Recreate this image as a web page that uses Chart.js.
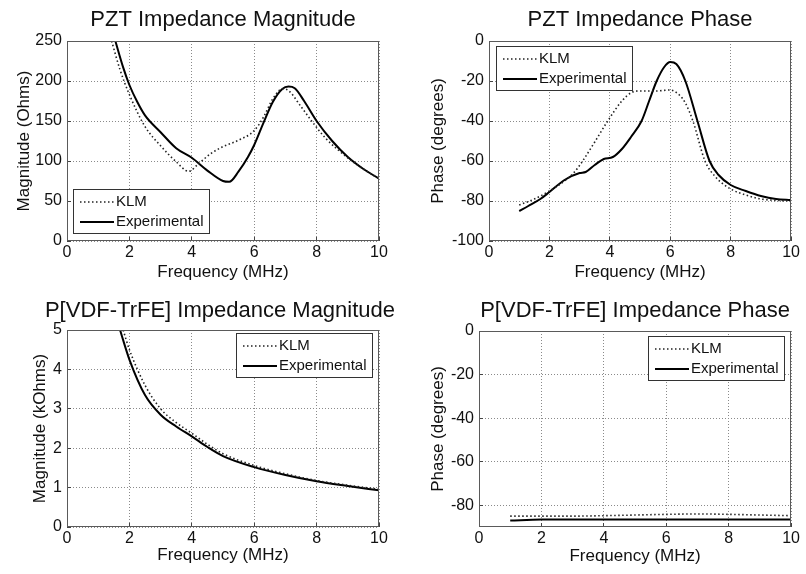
<!DOCTYPE html>
<html>
<head>
<meta charset="utf-8">
<script src="https://cdn.jsdelivr.net/npm/chart.js@4"></script>
<style>
  html, body { margin: 0; padding: 0; background: #fff; }
  #wrap { position: relative; width: 806px; height: 574px; overflow: hidden; }
  canvas { position: absolute; }
</style>
</head>
<body>
<div id="wrap">
  <canvas id="c1" width="403" height="290" style="left:0;top:0"></canvas>
  <canvas id="c2" width="403" height="290" style="left:403px;top:0"></canvas>
  <canvas id="c3" width="440" height="284" style="left:0;top:290px"></canvas>
  <canvas id="c4" width="403" height="284" style="left:403px;top:290px"></canvas>
</div>
<script>
// PZT impedance magnitude (Ohms)
const pztMagKlmFreq = [1.43, 1.7, 2.0, 2.5, 3.0, 3.5, 3.9, 4.2, 4.6, 5.0, 5.5, 6.0, 6.3, 6.6, 6.9, 7.1, 7.5, 7.84, 8.3, 9.0, 9.5, 10.0];
const pztMagKlm     = [250, 214, 183, 143, 119, 99, 87, 96, 109, 118, 126, 138, 155, 178, 190, 188, 168, 150, 128, 104, 90, 78];
const pztMagExpFreq = [1.55, 1.8, 2.0, 2.25, 2.5, 3.0, 3.5, 4.0, 4.5, 5.0, 5.2, 5.5, 5.8, 6.0, 6.3, 6.6, 6.9, 7.1, 7.3, 7.6, 8.0, 8.5, 9.0, 9.5, 10.0];
const pztMagExp     = [250, 217, 195, 174, 157, 136, 116, 104, 88, 75, 74, 87, 105, 120, 148, 174, 190, 193, 191, 175, 150, 125, 105, 90, 78];

// PZT impedance phase (degrees)
const pztPhKlmFreq = [1.0, 1.5, 2.0, 2.5, 2.8, 3.1, 3.5, 3.93, 4.4, 4.75, 5.0, 5.5, 6.0, 6.3, 6.5, 6.75, 7.15, 7.5, 8.0, 8.5, 9.0, 10.0];
const pztPhKlm     = [-82, -79, -75, -70, -66, -60, -50.5, -40, -30, -25.5, -25, -25, -24.5, -27, -31, -40, -60, -68, -74, -77, -79, -80];
const pztPhExpFreq = [1.0, 1.3, 1.7, 2.0, 2.5, 3.0, 3.2, 3.5, 3.8, 4.1, 4.4, 4.7, 5.05, 5.3, 5.55, 5.8, 6.0, 6.2, 6.5, 6.9, 7.3, 7.6, 8.0, 8.5, 9.0, 9.5, 10.0];
const pztPhExp     = [-85, -82.5, -79, -75.5, -69.5, -66, -65.5, -62, -59, -58, -54, -48, -40, -30, -20, -13, -10.5, -11.5, -20, -40, -60, -67, -72, -75, -77.5, -79, -79.5];

// P[VDF-TrFE] impedance magnitude (kOhms)
const pvdfMagKlmFreq = [1.8, 2.0, 2.5, 3.0, 3.5, 4.0, 4.5, 5.0, 6.0, 7.0, 8.0, 9.0, 10.0];
const pvdfMagKlm     = [5.0, 4.5, 3.6, 3.0, 2.65, 2.38, 2.1, 1.86, 1.56, 1.35, 1.18, 1.06, 0.96];
const pvdfMagExpFreq = [1.7, 2.0, 2.5, 3.0, 3.5, 4.0, 4.5, 5.0, 6.0, 7.0, 8.0, 9.0, 10.0];
const pvdfMagExp     = [5.0, 4.25, 3.35, 2.85, 2.55, 2.3, 2.03, 1.8, 1.52, 1.32, 1.16, 1.04, 0.93];

// P[VDF-TrFE] impedance phase (degrees)
const pvdfPhFreq = [1, 2, 3, 4, 5, 6, 7, 8, 9, 10];
const pvdfPhKlm  = [-85, -85, -85, -84.8, -84.5, -84.2, -84, -84.2, -84.5, -84.8];
const pvdfPhExp  = [-87, -86.6, -86.5, -86.5, -86.5, -86.5, -86.5, -86.5, -86.5, -86.5];

const seriesNames = ['KLM', 'Experimental'];
const xTicks = [0, 2, 4, 6, 8, 10];

Chart.defaults.font.family = '"Liberation Sans", Arial, sans-serif';
Chart.defaults.color = '#111';

function pts(xs, ys) {
  return xs.map((x, i) => ({ x: x, y: ys[i] }));
}

// axes box round the plot area
const frame = {
  id: 'frame',
  afterDatasetsDraw(chart) {
    const a = chart.chartArea;
    const ctx = chart.ctx;
    ctx.save();
    ctx.strokeStyle = '#5a5a5a';
    ctx.lineWidth = 1;
    ctx.strokeRect(Math.round(a.left) + 0.5, Math.round(a.top) + 0.5, Math.round(a.right - a.left) - 1, Math.round(a.bottom - a.top) - 1);
    ctx.restore();
  }
};

// matlab style legend box inside the axes
const boxLegend = {
  id: 'boxLegend',
  afterDatasetsDraw(chart, args, opts) {
    const a = chart.chartArea;
    const ctx = chart.ctx;
    const w = 136, h = 44;
    const x = Math.round(opts.right ? a.right - opts.dx - w : a.left + opts.dx);
    const y = Math.round(opts.bottom ? a.bottom - opts.dy - h : a.top + opts.dy);
    ctx.save();
    ctx.fillStyle = '#fff';
    ctx.fillRect(x, y, w, h);
    ctx.strokeStyle = '#333';
    ctx.lineWidth = 1;
    ctx.strokeRect(x + 0.5, y + 0.5, w, h);
    ctx.font = '15px "Liberation Sans", Arial, sans-serif';
    ctx.textBaseline = 'middle';
    chart.data.datasets.forEach((ds, i) => {
      const ly = y + 13 + i * 20;
      ctx.setLineDash(ds.borderDash || []);
      ctx.lineWidth = ds.borderWidth;
      ctx.strokeStyle = ds.borderColor;
      ctx.beginPath();
      ctx.moveTo(x + 7, ly);
      ctx.lineTo(x + 41, ly);
      ctx.stroke();
      ctx.setLineDash([]);
      ctx.fillStyle = '#111';
      ctx.fillText(ds.label, x + 43, ly);
    });
    ctx.restore();
  }
};

function makeChart(id, cfg) {
  const datasets = [
    { label: seriesNames[0], data: cfg.klm, borderColor: '#222', borderWidth: 1.6, borderDash: [1.5, 2.5] },
    { label: seriesNames[1], data: cfg.exp, borderColor: '#000', borderWidth: 2, borderDash: [] }
  ];
  // short inward tick marks, like matlab
  const gridOpts = { color: '#8a8a8a', lineWidth: 1, drawTicks: true, tickLength: -4, tickColor: '#444' };
  const scales = {
    x: {
      type: 'linear',
      min: 0,
      max: 10,
      afterBuildTicks: s => { s.ticks = xTicks.map(v => ({ value: v })); },
      afterFit: s => { s.height = cfg.xHeight; },
      ticks: { font: { size: 16 }, padding: 6, maxRotation: 0 },
      grid: gridOpts,
      border: { display: false, dash: [1, 2] },
      title: { display: true, text: 'Frequency (MHz)', font: { size: 17 }, padding: { top: 0, bottom: cfg.xTitlePad } }
    },
    y: {
      type: 'linear',
      min: cfg.yMin,
      max: cfg.yMax,
      afterBuildTicks: s => { s.ticks = cfg.yTicks.map(v => ({ value: v })); },
      afterFit: s => { s.width = cfg.yWidth; },
      ticks: { font: { size: 16 }, padding: 9 },
      grid: gridOpts,
      border: { display: false, dash: [1, 2] },
      title: { display: true, text: cfg.yTitle, font: { size: 17 }, padding: { top: cfg.yTitlePad, bottom: 0 } }
    }
  };
  if (cfg.rightGap) {
    // empty right-hand axis, only used to keep room so the title box can be wider than the axes
    scales.y2 = {
      position: 'right',
      afterFit: s => { s.width = cfg.rightGap; },
      ticks: { display: false },
      grid: { display: false },
      border: { display: false }
    };
  }
  return new Chart(document.getElementById(id), {
    type: 'line',
    data: { datasets: datasets },
    plugins: [frame, boxLegend],
    options: {
      responsive: false,
      animation: false,
      devicePixelRatio: 1,
      layout: { padding: { left: cfg.padLeft, top: 0, right: cfg.padRight, bottom: 0 } },
      elements: {
        point: { radius: 0 },
        line: { cubicInterpolationMode: 'monotone', fill: false }
      },
      plugins: {
        legend: { display: false },
        tooltip: { enabled: false },
        title: {
          display: true,
          text: cfg.title,
          fullSize: cfg.titleFull,
          color: '#111',
          font: { size: 22, weight: 'normal' },
          padding: { top: cfg.titleTop, bottom: cfg.titleBottom }
        },
        boxLegend: cfg.legend
      },
      scales: scales
    }
  });
}

makeChart('c1', {
  title: 'PZT Impedance Magnitude', titleFull: false,
  klm: pts(pztMagKlmFreq, pztMagKlm),
  exp: pts(pztMagExpFreq, pztMagExp),
  yMin: 0, yMax: 250, yTicks: [0, 50, 100, 150, 200, 250],
  yTitle: 'Magnitude (Ohms)',
  yWidth: 67, yTitlePad: 14, xHeight: 49, xTitlePad: 7, padLeft: 0, padRight: 24,
  titleTop: 7, titleBottom: 7.6,
  legend: { right: false, bottom: true, dx: 6, dy: 8 }
});

makeChart('c2', {
  title: 'PZT Impedance Phase', titleFull: false,
  klm: pts(pztPhKlmFreq, pztPhKlm),
  exp: pts(pztPhExpFreq, pztPhExp),
  yMin: -100, yMax: 0, yTicks: [-100, -80, -60, -40, -20, 0],
  yTitle: 'Phase (degrees)',
  yWidth: 86, yTitlePad: 25, xHeight: 49, xTitlePad: 7, padLeft: 0, padRight: 14,
  titleTop: 7, titleBottom: 7.6,
  legend: { right: false, bottom: false, dx: 7, dy: 5 }
});

// long title: full-size title box from 43 to 397 px so it is centred where matlab put it
makeChart('c3', {
  title: 'P[VDF-TrFE] Impedance Magnitude', titleFull: true,
  klm: pts(pvdfMagKlmFreq, pvdfMagKlm),
  exp: pts(pvdfMagExpFreq, pvdfMagExp),
  yMin: 0, yMax: 5, yTicks: [0, 1, 2, 3, 4, 5],
  yTitle: 'Magnitude (kOhms)',
  yWidth: 24, yTitlePad: -13, xHeight: 47, xTitlePad: 8, padLeft: 43, padRight: 43, rightGap: 18,
  titleTop: 8, titleBottom: 5.6,
  legend: { right: true, bottom: false, dx: 7, dy: 3 }
});

makeChart('c4', {
  title: 'P[VDF-TrFE] Impedance Phase', titleFull: false,
  klm: pts(pvdfPhFreq, pvdfPhKlm),
  exp: pts(pvdfPhFreq, pvdfPhExp),
  yMin: -90, yMax: 0, yTicks: [-80, -60, -40, -20, 0],
  yTitle: 'Phase (degrees)',
  yWidth: 76, yTitlePad: 25, xHeight: 47, xTitlePad: 7, padLeft: 0, padRight: 14,
  titleTop: 8, titleBottom: 6.6,
  legend: { right: true, bottom: false, dx: 7, dy: 5 }
});
</script>
</body>
</html>
